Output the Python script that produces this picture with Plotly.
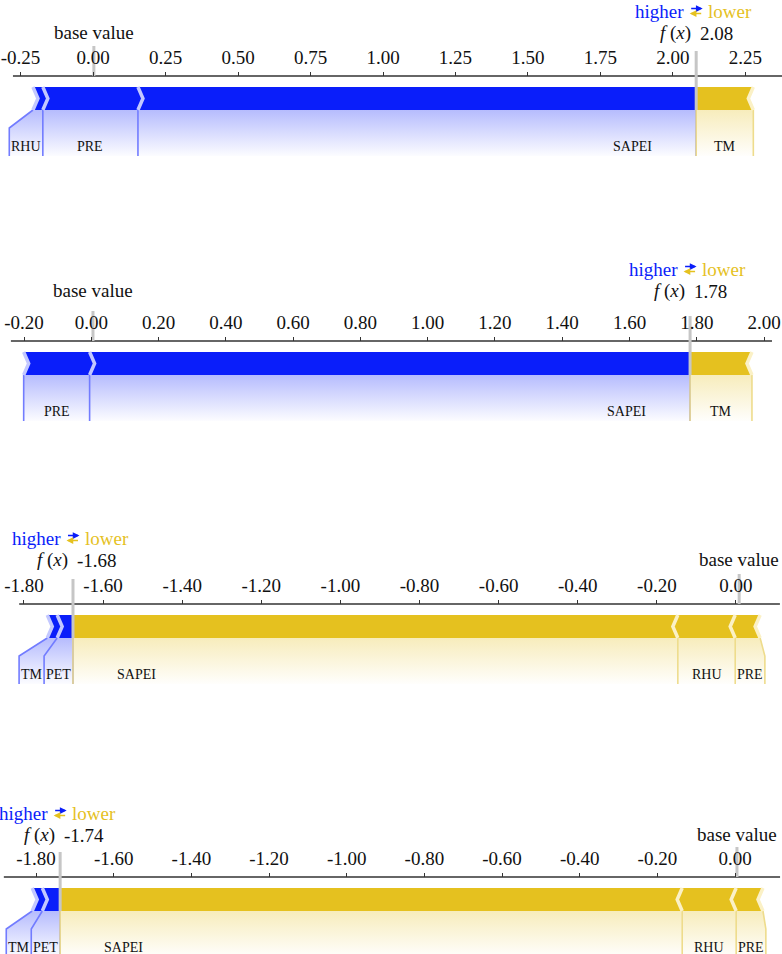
import plotly.graph_objects as go

W, H = 782, 954
SERIF = "Liberation Serif"

BLUE, BLUE_LIGHT, BLUE_LINE = "#0A1EFA", "#C3C8FF", "#727CFF"
GOLD, GOLD_LIGHT, GOLD_LINE = "#E5C11F", "#FBF1C6", "#EEDC8C"
GRAY = "#C6C6C6"

# --- data (one entry per panel) ---
out_values = [2.08, 1.78, -1.676, -1.738]
base_values = [0.003, 0.005, 0.008, 0.005]
pos_names = [["SAPEI", "PRE", "RHU"], ["SAPEI", "PRE"], ["PET", "TM"], ["PET", "TM"]]
pos_shap = [[1.925, 0.328, 0.034], [1.785, 0.196], [0.040, 0.025], [0.046, 0.026]]
neg_names = [["TM"], ["TM"], ["SAPEI", "RHU", "PRE"], ["SAPEI", "RHU", "PRE"]]
neg_shap = [[-0.197], [-0.184], [-1.529, -0.145, -0.063], [-1.602, -0.139, -0.069]]
tick_vals = [
    [-0.25, 0.00, 0.25, 0.50, 0.75, 1.00, 1.25, 1.50, 1.75, 2.00, 2.25],
    [-0.20, 0.00, 0.20, 0.40, 0.60, 0.80, 1.00, 1.20, 1.40, 1.60, 1.80, 2.00],
    [-1.80, -1.60, -1.40, -1.20, -1.00, -0.80, -0.60, -0.40, -0.20, 0.00],
    [-1.80, -1.60, -1.40, -1.20, -1.00, -0.80, -0.60, -0.40, -0.20, 0.00],
]

# --- layout of the panels ---
axis_y_px = [76, 341, 604, 877]
x_ranges = [[-0.3207, 2.3759], [-0.2714, 2.0533], [-1.8605, 0.1163], [-1.8929, 0.1210]]
line_spans = [[-0.276, 2.376], [-0.239, 2.0235], [-1.812, 0.111], [-1.883, 0.116]]
text_shift = [0, 7, 1, -1]

ABOVE, BELOW = 76, 80
BAR_TOP, BAR_BOT = -11, -34
DIAG, LINE_BOT, LABEL_Y = -52, -82, -70
CW = {"S": .556, "A": .722, "P": .556, "E": .611, "I": .333, "R": .667,
      "H": .722, "U": .722, "T": .611, "M": .889}
LABEL_SIZE = 14
TEXT_SIZE = 19

fig = go.Figure()
annotations = []
layout = {}


def poly(xs, ys, ax, **kw):
    fig.add_trace(go.Scatter(x=xs, y=ys, mode="lines", xaxis="x" + ax, yaxis="y" + ax,
                             hoverinfo="skip", **kw))


for p in range(4):
    ax = "" if p == 0 else str(p + 1)
    r0, r1 = x_ranges[p]
    s = W / (r1 - r0)          # px per data unit
    ind = 5 / s                # chevron indent
    off = 2 / s
    out = out_values[p]
    ymid = (BAR_TOP + BAR_BOT) / 2
    below = min(BELOW, H - axis_y_px[p])

    bars, seps, fills, lines, labels = [], [], [], [], []
    for names, vals, sign, col, light, lcol in (
        (pos_names[p], pos_shap[p], -1, BLUE, BLUE_LIGHT, BLUE_LINE),
        (neg_names[p], neg_shap[p], 1, GOLD, GOLD_LIGHT, GOLD_LINE),
    ):
        pre = out
        start = out
        k = -sign * ind  # +ind for positive (">"), -ind for negative ("<")
        lines.append(([out, out], [BAR_BOT, LINE_BOT], lcol))
        for i, (name, v) in enumerate(zip(names, vals)):
            far = pre + sign * abs(v)
            near = pre
            if i == 0:
                xs = [far, near, near, far, far + k, far]
                ys = [BAR_BOT, BAR_BOT, BAR_TOP, BAR_TOP, ymid, BAR_BOT]
            else:
                xs = [far, near, near + 0.9 * k, near, far, far + 0.9 * k, far]
                ys = [BAR_BOT, BAR_BOT, ymid, BAR_TOP, BAR_TOP, ymid, BAR_BOT]
            bars.append((xs, ys, col))
            seps.append(([far, far + k, far], [BAR_BOT, ymid, BAR_TOP], light))

            # label box, laid out like shap's force plot
            w = sum(CW[c] for c in name) * LABEL_SIZE / s
            text_far = start + sign * (off + w)
            if sign * (text_far + sign * off) <= sign * far:
                end = far
                lines.append(([far, far], [BAR_BOT, LINE_BOT], lcol))
            else:
                end = text_far + sign * off
                lines.append(([far, end, end], [BAR_BOT, DIAG, LINE_BOT], lcol))
            fills.append(([pre, far, end, end, start, start, pre],
                          [BAR_BOT, BAR_BOT, DIAG, LINE_BOT, LINE_BOT, DIAG, BAR_BOT], col))
            if abs(end - start) * s > 250:
                cx = start + sign * (44 / s + w / 2)
            else:
                cx = (start + end) / 2
            labels.append((cx, name))
            start = end
            pre = far

    for xs, ys, col in fills:
        rgb = tuple(int(col[i:i + 2], 16) for i in (1, 3, 5))
        poly(xs, ys, ax, fill="toself", line=dict(width=0),
             fillgradient=dict(type="vertical", colorscale=[
                 [0, "rgba(%d,%d,%d,0)" % rgb], [1, "rgba(%d,%d,%d,0.3)" % rgb]]))
    for xs, ys, col in lines:
        poly(xs, ys, ax, line=dict(color=col, width=1.6))
    for xs, ys, col in bars:
        poly(xs, ys, ax, fill="toself", fillcolor=col, line=dict(width=0))
    for xs, ys, col in seps:
        poly(xs, ys, ax, line=dict(color=col, width=3.5))

    # axis line, base value and f(x) markers
    poly(line_spans[p], [0, 0], ax, line=dict(color="#333333", width=1.3))
    poly([base_values[p]] * 2, [0, 30], ax, line=dict(color=GRAY, width=3))
    poly([out] * 2, [25, BAR_BOT], ax, line=dict(color=GRAY, width=3))

    xr, yr = "x" + ax, "y" + ax
    sh = text_shift[p]
    for cx, name in labels:
        annotations.append(dict(x=cx, y=LABEL_Y, xref=xr, yref=yr, text=name, showarrow=False,
                                font=dict(family=SERIF, size=LABEL_SIZE, color="#111")))
    annotations += [
        dict(x=base_values[p], y=44 + sh, xref=xr, yref=yr, text="base value", showarrow=False,
             font=dict(family=SERIF, size=TEXT_SIZE, color="#111")),
        dict(x=out - 3 / s, y=43 + sh, xref=xr, yref=yr, text="<i>f</i> (<i>x</i>)",
             xanchor="right", showarrow=False, font=dict(family=SERIF, size=TEXT_SIZE, color="#111")),
        dict(x=out + 2 / s, y=43 + sh, xref=xr, yref=yr, text="%.2f" % out,
             xanchor="left", showarrow=False, font=dict(family=SERIF, size=TEXT_SIZE, color="#111")),
        dict(x=out - 10 / s, y=65 + sh, xref=xr, yref=yr, text="higher", xanchor="right",
             showarrow=False, font=dict(family=SERIF, size=TEXT_SIZE, color=BLUE)),
        dict(x=out + 10 / s, y=65 + sh, xref=xr, yref=yr, text="lower", xanchor="left",
             showarrow=False, font=dict(family=SERIF, size=TEXT_SIZE, color=GOLD)),
        # the two stacked arrows between "higher" and "lower"
        dict(x=out + 6.5 / s, y=67.5 + sh, xref=xr, yref=yr, text="", showarrow=True,
             ax=-13, ay=0, arrowhead=2, arrowsize=0.9, arrowwidth=1.5, arrowcolor=BLUE, standoff=0),
        dict(x=out - 6.5 / s, y=62.5 + sh, xref=xr, yref=yr, text="", showarrow=True,
             ax=13, ay=0, arrowhead=2, arrowsize=0.9, arrowwidth=1.5, arrowcolor=GOLD, standoff=0),
    ]

    ytop = 1 - (axis_y_px[p] - ABOVE) / H
    ybot = 1 - (axis_y_px[p] + below) / H
    layout["xaxis" + ax] = dict(
        domain=[0, 1], range=x_ranges[p], anchor="free", position=1 - axis_y_px[p] / H,
        side="top", showline=False, showgrid=False, zeroline=False,
        ticks="outside", ticklen=4, tickwidth=1, tickcolor="#333333",
        tickvals=tick_vals[p], ticktext=["%.2f" % t for t in tick_vals[p]],
        tickfont=dict(family=SERIF, size=TEXT_SIZE, color="#111"), fixedrange=True,
    )
    layout["yaxis" + ax] = dict(domain=[ybot, ytop], range=[-below, ABOVE], visible=False,
                                fixedrange=True, anchor="x" + ax)

fig.update_layout(
    width=W, height=H, margin=dict(l=0, r=0, t=0, b=0),
    paper_bgcolor="white", plot_bgcolor="white", showlegend=False,
    annotations=annotations, **layout,
)
# drop the page's default body margin so the figure sits at the window's corner
fig.write_html("out.html", config={"displayModeBar": False},
               post_script="document.body.style.margin='0';")
